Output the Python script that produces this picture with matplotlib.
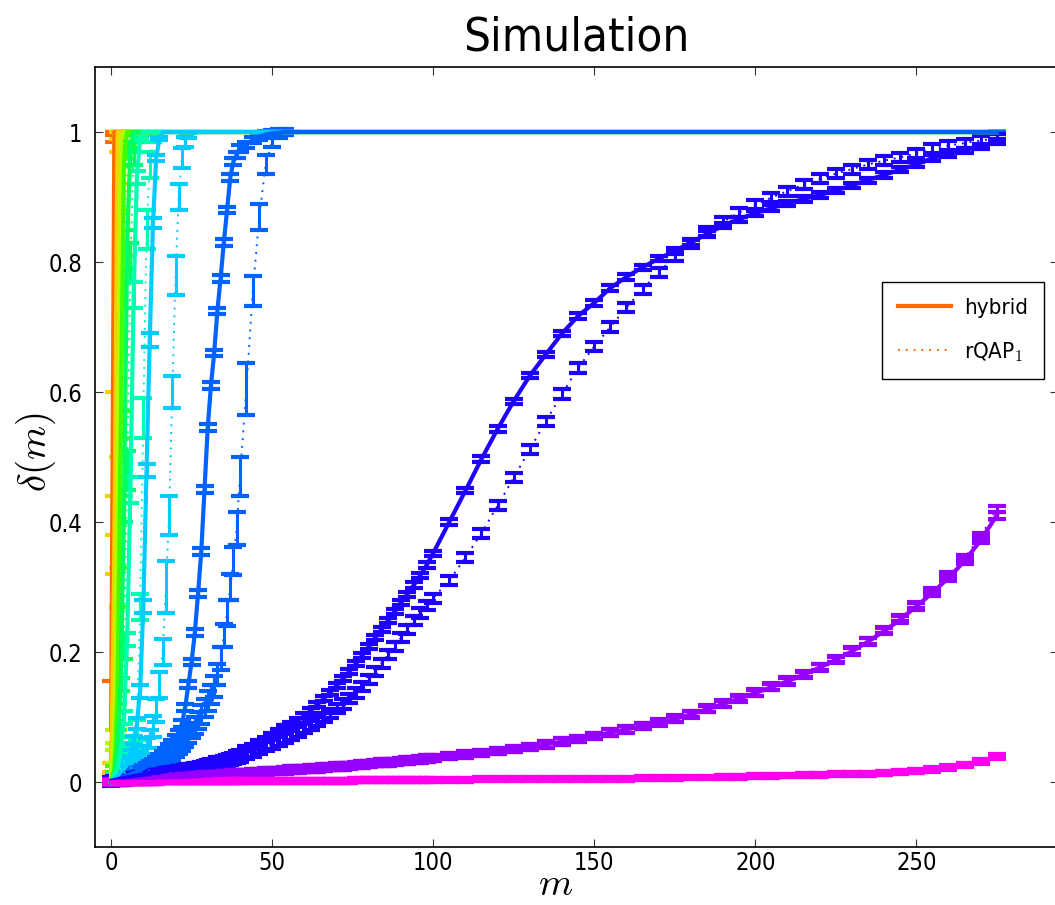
import matplotlib
matplotlib.use('Agg')
import matplotlib.pyplot as plt
from matplotlib import font_manager
from matplotlib.font_manager import FontProperties
from matplotlib.lines import Line2D

plt.rcParams['mathtext.fontset'] = 'cm'


def _pick_narrow():
    files = [f.fname for f in font_manager.fontManager.ttflist]
    prefs = ['LiberationSansNarrow-Regular', 'DejaVuSansCondensed.', 'OpenSans_Condensed-Regular',
             'OpenSansCondensed-Regular', 'RobotoCondensed-Regular', 'NotoSans-Condensed.',
             'NotoSansCondensed-Regular', 'Condensed-Regular', 'Narrow-Regular']
    for p in prefs:
        for fn in files:
            if p in fn.replace(' ', ''):
                return fn
    for fn in files:
        low = fn.lower()
        if ('condensed' in low or 'narrow' in low) and not any(
                k in low for k in ('bold', 'italic', 'oblique', 'light', 'thin', 'black', 'medium', 'semi', 'extra')):
            return fn
    return None


_NARROW_FILE = _pick_narrow()


def nfont(size):
    if _NARROW_FILE:
        return FontProperties(fname=_NARROW_FILE, size=size)
    return FontProperties(family='DejaVu Sans', stretch='condensed', size=size)


# ---------------- data ----------------
# number of seeds m at which delta(m) was evaluated
M = list(range(0, 41)) + list(range(42, 101, 2)) + list(range(105, 276, 5))

COLORS = ['#FF6A00', '#FFCC00', '#B0FF00', '#40FF00', '#00FF60', '#00FFB0',
          '#00CCFF', '#0062FF', '#1E00FF', '#9600FF', '#FF00EE']

# fast curves (values from m=0 on, saturating at 1 afterwards)
ORANGE_H = [0.08, 1.0]
ORANGE_H_ERR = [0.075, 0.0]
ORANGE_R = [0.0, 0.99, 1.0]
ORANGE_R_ERR = [0.0, 0.005, 0.0]
YELLOW_H = [0.01, 0.35, 1.0]
YELLOW_H_ERR = [0.005, 0.03, 0.0]
YELLOW_R = [0.02, 0.52, 0.98, 1.0]
YELLOW_R_ERR = [0.01, 0.08, 0.01, 0.0]
LIME_H = [0.0, 0.07, 0.47, 0.99, 1.0]
LIME_H_ERR = [0.0, 0.01, 0.03, 0.005, 0.0]
LIME_R = [0.0, 0.04, 0.30, 0.90, 1.0]
LIME_R_ERR = [0.0, 0.01, 0.03, 0.02, 0.0]
GREEN_H = [0.0, 0.02, 0.13, 0.55, 0.96, 1.0]
GREEN_H_ERR = [0.0, 0.005, 0.01, 0.02, 0.01, 0.0]
GREEN_R = [0.0, 0.01, 0.07, 0.30, 0.76, 0.97, 1.0]
GREEN_R_ERR = [0.0, 0.005, 0.01, 0.03, 0.03, 0.01, 0.0]
SPRING_H = [0.0, 0.01, 0.05, 0.15, 0.42, 0.83, 0.98, 1.0]
SPRING_H_ERR = [0.0, 0.003, 0.005, 0.01, 0.02, 0.02, 0.005, 0.0]
SPRING_R = [0.0, 0.01, 0.03, 0.08, 0.21, 0.48, 0.80, 0.96, 0.99, 1.0]
SPRING_R_ERR = [0.0, 0.003, 0.005, 0.01, 0.02, 0.03, 0.03, 0.01, 0.005, 0.0]
AQUA_H = [0.0, 0.01, 0.02, 0.05, 0.10, 0.22, 0.45, 0.75, 0.93, 0.99, 1.0]
AQUA_H_ERR = [0.0, 0.002, 0.003, 0.005, 0.01, 0.01, 0.02, 0.02, 0.01, 0.003, 0.0]
AQUA_R = [0.0, 0.005, 0.01, 0.02, 0.03, 0.04, 0.05, 0.06, 0.08, 0.27, 0.56,
          0.85, 0.95, 0.99, 1.0]
AQUA_R_ERR = [0.0, 0.002, 0.003, 0.005, 0.006, 0.008, 0.01, 0.01, 0.015, 0.02,
              0.03, 0.03, 0.02, 0.005, 0.0]
SKY_H = [0.0, 0.005, 0.01, 0.015, 0.02, 0.03, 0.045, 0.065, 0.09, 0.14, 0.27,
         0.48, 0.68, 0.86, 0.96, 0.99, 1.0]
SKY_H_ERR = [0.0, 0.002, 0.002, 0.003, 0.003, 0.004, 0.005, 0.006, 0.008, 0.01,
             0.01, 0.01, 0.01, 0.008, 0.005, 0.003, 0.0]
SKY_R = [0.0, 0.003, 0.006, 0.010, 0.013, 0.017, 0.021, 0.026, 0.031, 0.037,
         0.045, 0.055, 0.066, 0.085, 0.110, 0.150, 0.200, 0.300, 0.410, 0.600,
         0.780, 0.900, 0.960, 0.985, 0.995, 1.0]
SKY_R_ERR = [0.0, 0.002, 0.002, 0.003, 0.004, 0.005, 0.006, 0.007, 0.008, 0.009,
             0.01, 0.012, 0.014, 0.016, 0.018, 0.02, 0.02, 0.04, 0.03, 0.025,
             0.03, 0.02, 0.015, 0.008, 0.004, 0.0]
AZURE_H = [0.000, 0.002, 0.004, 0.006, 0.008, 0.010, 0.012, 0.014, 0.016, 0.018,
           0.021, 0.024, 0.027, 0.030, 0.034, 0.038, 0.043, 0.048, 0.054, 0.060,
           0.067, 0.075, 0.090, 0.115, 0.150, 0.185, 0.230, 0.290, 0.355, 0.450,
           0.545, 0.610, 0.660, 0.725, 0.775, 0.830, 0.880, 0.930, 0.955, 0.965,
           0.975, 0.980, 0.988, 0.993, 0.996, 0.998, 0.999, 1.0]
AZURE_H_ERR = 0.005
AZURE_R = [0.000, 0.001, 0.002, 0.003, 0.005, 0.006, 0.008, 0.009, 0.011, 0.013,
           0.015, 0.017, 0.019, 0.022, 0.025, 0.028, 0.031, 0.035, 0.039, 0.043,
           0.048, 0.053, 0.059, 0.065, 0.072, 0.079, 0.087, 0.095, 0.104, 0.114,
           0.125, 0.135, 0.147, 0.165, 0.190, 0.225, 0.260, 0.300, 0.340, 0.390,
           0.470, 0.605, 0.755, 0.870, 0.950, 0.985, 0.995, 0.998, 1.0]
AZURE_R_ERR = [0.0, 0.002, 0.002, 0.003, 0.003, 0.004, 0.004, 0.005, 0.005, 0.006,
               0.006, 0.006, 0.007, 0.007, 0.008, 0.008, 0.008, 0.009, 0.009, 0.01,
               0.01, 0.01, 0.011, 0.011, 0.012, 0.012, 0.013, 0.013, 0.014, 0.014,
               0.015, 0.015, 0.016, 0.016, 0.017, 0.018, 0.02, 0.02, 0.022, 0.025,
               0.03, 0.04, 0.023, 0.02, 0.015, 0.008, 0.004, 0.002, 0.0]

# slow curves (one value per m in M)
BLUE_H = [0.002, 0.003, 0.004, 0.005, 0.006, 0.007, 0.008, 0.009, 0.010, 0.010,
          0.011, 0.012, 0.013, 0.014, 0.014, 0.015, 0.016, 0.017, 0.018, 0.019,
          0.019, 0.020, 0.021, 0.022, 0.023, 0.024, 0.025, 0.026, 0.027, 0.028,
          0.030, 0.031, 0.032, 0.034, 0.035, 0.036, 0.038, 0.039, 0.041, 0.043, 0.046,
          0.051, 0.055, 0.060, 0.065, 0.071, 0.077, 0.083, 0.089, 0.095, 0.102,
          0.110, 0.119, 0.128, 0.138, 0.148, 0.159, 0.170, 0.182, 0.195, 0.208,
          0.222, 0.235, 0.248, 0.262, 0.276, 0.289, 0.303, 0.318, 0.334, 0.352,
          0.400, 0.448, 0.497, 0.543, 0.586, 0.625, 0.658, 0.690, 0.717, 0.737,
          0.760, 0.777, 0.792, 0.805, 0.817, 0.830, 0.843, 0.856, 0.866, 0.875,
          0.883, 0.890, 0.897, 0.903, 0.910, 0.918, 0.926, 0.934, 0.942, 0.950,
          0.960, 0.966, 0.972, 0.978, 0.985]
BLUE_H_ERR = 0.004
BLUE_R = [0.001, 0.002, 0.003, 0.004, 0.004, 0.005, 0.006, 0.007, 0.007, 0.008,
          0.009, 0.010, 0.010, 0.011, 0.012, 0.012, 0.013, 0.014, 0.015, 0.015,
          0.016, 0.017, 0.018, 0.019, 0.019, 0.020, 0.021, 0.022, 0.023, 0.024,
          0.025, 0.026, 0.027, 0.028, 0.029, 0.030, 0.032, 0.033, 0.034, 0.036, 0.038,
          0.043, 0.046, 0.050, 0.054, 0.058, 0.062, 0.067, 0.072, 0.077, 0.082,
          0.087, 0.093, 0.099, 0.106, 0.113, 0.120, 0.128, 0.137, 0.147, 0.158,
          0.170, 0.183, 0.196, 0.209, 0.222, 0.235, 0.248, 0.260, 0.271, 0.283,
          0.310, 0.345, 0.383, 0.425, 0.468, 0.512, 0.555, 0.597, 0.637, 0.670,
          0.700, 0.730, 0.758, 0.784, 0.808, 0.829, 0.847, 0.862, 0.876, 0.888,
          0.899, 0.909, 0.919, 0.928, 0.936, 0.943, 0.950, 0.956, 0.961, 0.967,
          0.975, 0.979, 0.983, 0.987, 0.990]
BLUE_R_ERR = 0.007
VIOLET_H = [0.000, 0.000, 0.001, 0.001, 0.001, 0.002, 0.002, 0.002, 0.003, 0.003,
            0.003, 0.004, 0.004, 0.004, 0.005, 0.005, 0.005, 0.006, 0.006, 0.006,
            0.007, 0.007, 0.007, 0.008, 0.008, 0.008, 0.009, 0.009, 0.009, 0.010,
            0.010, 0.010, 0.011, 0.011, 0.011, 0.012, 0.012, 0.012, 0.013, 0.013, 0.014,
            0.014, 0.015, 0.015, 0.016, 0.017, 0.017, 0.018, 0.019, 0.019, 0.020,
            0.021, 0.021, 0.022, 0.023, 0.024, 0.024, 0.025, 0.026, 0.027, 0.028,
            0.029, 0.030, 0.030, 0.031, 0.032, 0.033, 0.034, 0.035, 0.036, 0.037,
            0.040, 0.042, 0.045, 0.048, 0.051, 0.054, 0.058, 0.062, 0.066, 0.071,
            0.076, 0.081, 0.086, 0.091, 0.097, 0.104, 0.112, 0.120, 0.128, 0.137,
            0.146, 0.155, 0.165, 0.176, 0.188, 0.201, 0.216, 0.232, 0.250, 0.270,
            0.291, 0.314, 0.340, 0.372, 0.410]
VIOLET_H_ERR = 0.005
VIOLET_R = [0.000, 0.000, 0.001, 0.001, 0.001, 0.002, 0.002, 0.002, 0.003, 0.003,
            0.003, 0.004, 0.004, 0.004, 0.005, 0.005, 0.005, 0.006, 0.006, 0.006,
            0.007, 0.007, 0.007, 0.008, 0.008, 0.008, 0.009, 0.009, 0.009, 0.010,
            0.010, 0.010, 0.011, 0.011, 0.011, 0.012, 0.012, 0.012, 0.013, 0.013, 0.014,
            0.014, 0.015, 0.015, 0.016, 0.017, 0.017, 0.018, 0.019, 0.019, 0.020,
            0.021, 0.021, 0.022, 0.023, 0.024, 0.024, 0.025, 0.026, 0.027, 0.028,
            0.029, 0.030, 0.030, 0.031, 0.032, 0.033, 0.034, 0.035, 0.036, 0.037,
            0.040, 0.042, 0.045, 0.048, 0.051, 0.054, 0.058, 0.062, 0.066, 0.071,
            0.076, 0.081, 0.086, 0.092, 0.098, 0.105, 0.113, 0.121, 0.129, 0.138,
            0.147, 0.156, 0.166, 0.177, 0.189, 0.202, 0.217, 0.234, 0.252, 0.272,
            0.294, 0.318, 0.345, 0.378, 0.420]
VIOLET_R_ERR = 0.005
MAGENTA_H = [0.000, 0.000, 0.000, 0.000, 0.000, 0.000, 0.000, 0.000, 0.000, 0.000,
             0.000, 0.000, 0.000, 0.000, 0.000, 0.001, 0.001, 0.001, 0.001, 0.001,
             0.001, 0.001, 0.001, 0.001, 0.001, 0.001, 0.001, 0.001, 0.001, 0.001,
             0.001, 0.001, 0.001, 0.001, 0.001, 0.001, 0.001, 0.001, 0.001, 0.001, 0.001,
             0.001, 0.001, 0.001, 0.001, 0.001, 0.002, 0.002, 0.002, 0.002, 0.002,
             0.002, 0.002, 0.002, 0.002, 0.002, 0.002, 0.002, 0.003, 0.003, 0.003,
             0.003, 0.003, 0.003, 0.003, 0.003, 0.003, 0.003, 0.003, 0.003, 0.003,
             0.003, 0.003, 0.004, 0.004, 0.004, 0.004, 0.004, 0.005, 0.005, 0.005,
             0.005, 0.005, 0.006, 0.006, 0.006, 0.007, 0.007, 0.008, 0.008, 0.009,
             0.009, 0.010, 0.011, 0.011, 0.012, 0.012, 0.013, 0.014, 0.016, 0.017,
             0.020, 0.023, 0.027, 0.032, 0.040]
MAGENTA_H_ERR = 0.003
MAGENTA_R = [0.000, 0.000, 0.000, 0.000, 0.000, 0.000, 0.000, 0.000, 0.000, 0.000,
             0.000, 0.000, 0.000, 0.000, 0.000, 0.001, 0.001, 0.001, 0.001, 0.001,
             0.001, 0.001, 0.001, 0.001, 0.001, 0.001, 0.001, 0.001, 0.001, 0.001,
             0.001, 0.001, 0.001, 0.001, 0.001, 0.001, 0.001, 0.001, 0.001, 0.001, 0.001,
             0.001, 0.001, 0.001, 0.001, 0.001, 0.002, 0.002, 0.002, 0.002, 0.002,
             0.002, 0.002, 0.002, 0.002, 0.002, 0.002, 0.002, 0.003, 0.003, 0.003,
             0.003, 0.003, 0.003, 0.003, 0.003, 0.003, 0.003, 0.003, 0.003, 0.003,
             0.003, 0.003, 0.004, 0.004, 0.004, 0.004, 0.004, 0.005, 0.005, 0.005,
             0.005, 0.005, 0.006, 0.006, 0.006, 0.007, 0.007, 0.008, 0.008, 0.009,
             0.009, 0.010, 0.011, 0.011, 0.012, 0.012, 0.013, 0.014, 0.015, 0.017,
             0.019, 0.022, 0.026, 0.031, 0.038]
MAGENTA_R_ERR = 0.003

SERIES = [
    (ORANGE_H, ORANGE_H_ERR, ORANGE_R, ORANGE_R_ERR),
    (YELLOW_H, YELLOW_H_ERR, YELLOW_R, YELLOW_R_ERR),
    (LIME_H, LIME_H_ERR, LIME_R, LIME_R_ERR),
    (GREEN_H, GREEN_H_ERR, GREEN_R, GREEN_R_ERR),
    (SPRING_H, SPRING_H_ERR, SPRING_R, SPRING_R_ERR),
    (AQUA_H, AQUA_H_ERR, AQUA_R, AQUA_R_ERR),
    (SKY_H, SKY_H_ERR, SKY_R, SKY_R_ERR),
    (AZURE_H, AZURE_H_ERR, AZURE_R, AZURE_R_ERR),
    (BLUE_H, BLUE_H_ERR, BLUE_R, BLUE_R_ERR),
    (VIOLET_H, VIOLET_H_ERR, VIOLET_R, VIOLET_R_ERR),
    (MAGENTA_H, MAGENTA_H_ERR, MAGENTA_R, MAGENTA_R_ERR),
]

X_TICKS = [0, 50, 100, 150, 200, 250]
Y_TICKS = [0, 0.2, 0.4, 0.6, 0.8, 1]
Y_TICK_LABELS = ['0', '0.2', '0.4', '0.6', '0.8', '1']
LEGEND_LABELS = ['hybrid', 'rQAP$_1$']

# ---------------- figure ----------------
W, H = 1055, 905
AX_L, AX_R, AX_T, AX_B = 95, 1058, 67, 847
fig = plt.figure(figsize=(W / 100, H / 100), dpi=100)
ax = fig.add_axes([AX_L / W, (H - AX_B) / H, (AX_R - AX_L) / W, (AX_B - AX_T) / H])


def draw(vals, errs, color, solid):
    n = len(vals)
    x = list(M[:n])
    y = list(vals)
    if isinstance(errs, (int, float)):
        e = [errs] * n
    else:
        e = list(errs)
    if n < len(M):  # curve stays saturated up to the last m
        x.append(M[-1])
        y.append(vals[-1])
        e.append(0.0)
    ax.errorbar(x, y, yerr=e, color=color,
                linestyle='-' if solid else (0, (1, 3)),
                linewidth=3.0 if solid else 1.4,
                elinewidth=2.2, capsize=6.5, capthick=3.0)


for (h, he, r, re_), c in zip(SERIES, COLORS):
    draw(h, he, c, True)
    draw(r, re_, c, False)

ax.set_xlim(-5, 294)
ax.set_ylim(-0.1, 1.1)
ax.set_xticks(X_TICKS)
ax.set_yticks(Y_TICKS)
ax.set_yticklabels(Y_TICK_LABELS)
ax.tick_params(direction='in', length=6, width=0.8, top=True, right=True,
               pad=9, color='#333333')
ax.tick_params(axis='x', pad=3)
for lab in ax.get_xticklabels() + ax.get_yticklabels():
    lab.set_fontproperties(nfont(17))
for s in ax.spines.values():
    s.set_linewidth(1.2)

ax.set_title('Simulation', fontproperties=nfont(34), pad=12)
ax.set_xlabel(r'$m$', fontsize=28)
ax.xaxis.set_label_coords((556 - AX_L) / (AX_R - AX_L), (AX_B - 895) / (AX_B - AX_T))
ax.xaxis.label.set_va('baseline')
ax.set_ylabel(r'$\delta(m)$', fontsize=28)
ax.yaxis.set_label_coords((36 - AX_L) / (AX_R - AX_L), (AX_B - 452) / (AX_B - AX_T))
ax.yaxis.label.set_va('center')

handles = [Line2D([], [], color=COLORS[0], lw=3.0),
           Line2D([], [], color=COLORS[0], lw=1.4, linestyle=(0, (1, 3)))]
leg = ax.legend(handles, LEGEND_LABELS, loc='upper left',
                bbox_to_anchor=(882 / W, 1 - 282 / H), bbox_transform=fig.transFigure,
                fancybox=False, framealpha=1, edgecolor='black', borderaxespad=0,
                prop=nfont(16), handlelength=2.4,
                borderpad=0.7, labelspacing=1.0, handletextpad=0.6)
leg.get_frame().set_linewidth(1.0)

fig.savefig('out.png', dpi=100, facecolor='white')
